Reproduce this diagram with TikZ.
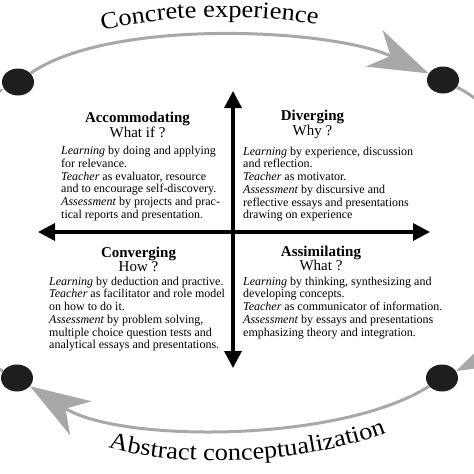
\documentclass[tikz,border=0pt]{standalone}
\usepackage{fontspec}
\setmainfont{Liberation Serif}
\newfontfamily\arcfont[FakeStretch=1.1]{Liberation Serif}
\usetikzlibrary{arrows.meta,shapes.geometric,decorations.text}
\definecolor{arcgray}{RGB}{168,168,168}
\definecolor{dotc}{RGB}{30,30,30}
\begin{document}
\begin{tikzpicture}[x=1pt,y=-1pt,
  dot/.style={ellipse, fill=dotc, draw=none, minimum width=32pt, minimum height=27pt, inner sep=0pt},
  cycle/.style={draw=arcgray, line width=3pt, -{Stealth[length=60pt,width=40pt,inset=18pt]}},
  axis/.style={draw=black, line width=3.5pt, {Triangle[length=17pt,width=17pt]}-{Triangle[length=17pt,width=17pt]}},
  head/.style={anchor=base, inner sep=0pt, font=\fontsize{15}{15}\selectfont},
  body/.style={anchor=base west, inner sep=0pt, font=\fontsize{12}{12.75}\selectfont},
  curvetext/.style={decorate, decoration={text along path, text align=center}}
]
\path[use as bounding box] (0,0) rectangle (474,474);
\clip (0,0) rectangle (474,474);

% dots
\node[dot] (dTL) at (18,82) {};
\node[dot] (dTR) at (443,80) {};
\node[dot] (dBR) at (442,378) {};
\node[dot] (dBL) at (17,378) {};

% cycle arcs
\draw[cycle] (dTL) .. controls (110,18) and (330,28) .. (dTR);
\draw[cycle] (dTR) .. controls (560,140) and (560,320) .. (dBR);
\draw[cycle] (dBR) .. controls (340,443) and (120,443) .. (dBL);
\draw[cycle] (dBL) .. controls (-100,320) and (-100,140) .. (dTL);

% curved labels
\path[curvetext, decoration={text={|\arcfont\fontsize{24}{28}\selectfont|Concrete experience}}]
  (80,37) .. controls (145,13) and (275,11) .. (340,30);
\path[curvetext, decoration={text={|\arcfont\fontsize{24}{28}\selectfont|Abstract conceptualization}}]
  (92,442) .. controls (155,468) and (305,470) .. (402,426);

% axes
\coordinate (vT) at (233,91);
\coordinate (vB) at (233,368);
\coordinate (hL) at (38,232);
\coordinate (hR) at (430,232);
\draw[axis] (vB) -- (vT);
\draw[axis] (hL) -- (hR);

% quadrant texts
\node[head] (hAcc) at (137.5,122) {\parbox[t]{150pt}{\centering\textbf{Accommodating}\\What if ?}};
\node[body] (bAcc) at (61,154.5) {\parbox[t]{230pt}{\raggedright
  \textit{Learning} by doing and applying\\
  for relevance.\\
  \textit{Teacher} as evaluator, resource\\
  and to encourage self-discovery.\\
  \textit{Assessment} by projects and prac-\\
  tical reports and presentation.}};

\node[head] (hDiv) at (312.5,120) {\parbox[t]{150pt}{\centering\textbf{Diverging}\\Why ?}};
\node[body] (bDiv) at (243,155) {\parbox[t]{230pt}{\raggedright
  \textit{Learning} by experience, discussion\\
  and reflection.\\
  \textit{Teacher} as motivator.\\
  \textit{Assessment} by discursive and\\
  reflective essays and presentations\\
  drawing on experience}};

\node[head] (hCon) at (138.5,257) {\parbox[t]{150pt}{\centering\textbf{Converging}\\[-1pt]How ?}};
\node[body] (bCon) at (49,285) {\parbox[t]{230pt}{\raggedright
  \textit{Learning} by deduction and practive.\\
  \textit{Teacher} as facilitator and role model\\
  on how to do it.\\
  \textit{Assessment} by problem solving,\\
  multiple choice question tests and\\
  analytical essays and presentations.}};

\node[head] (hAss) at (321,256) {\parbox[t]{150pt}{\centering\textbf{Assimilating}\\[-1pt]What ?}};
\node[body] (bAss) at (243,285) {\parbox[t]{230pt}{\raggedright
  \textit{Learning} by thinking, synthesizing and\\
  developing concepts.\\
  \textit{Teacher} as communicator of information.\\
  \textit{Assessment} by essays and presentations\\
  emphasizing theory and integration.}};
\end{tikzpicture}
\end{document}
